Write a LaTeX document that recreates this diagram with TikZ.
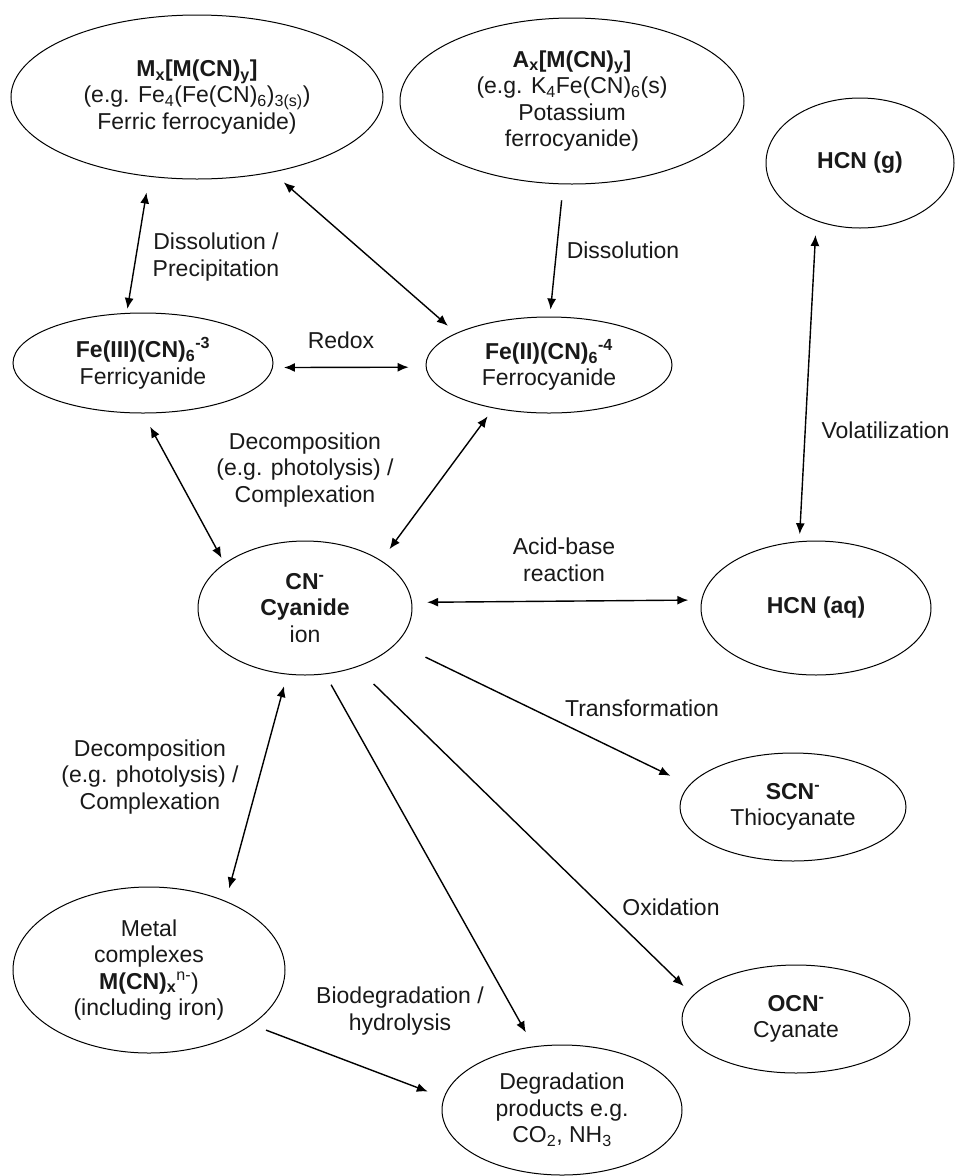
\documentclass[tikz,border=0pt]{standalone}
\usepackage{fontspec}
\setmainfont{Liberation Sans}
\usetikzlibrary{arrows.meta,shapes.geometric}
\begin{document}
\begin{tikzpicture}[x=1pt,y=-1pt,
  every node/.style={font=\fontsize{23}{26.5}\selectfont, align=center, text=black!90},
  ell/.style={draw, ellipse, line width=1pt, inner sep=0pt},
  conn/.style={line width=1.4pt, -{Latex[length=11pt,width=9pt]}},
  biconn/.style={line width=1.4pt, {Latex[length=11pt,width=9pt]}-{Latex[length=11pt,width=9pt]}},
]
\fill[white] (0,0) rectangle (954,1176);
\useasboundingbox (0,0) rectangle (954,1176);

% ellipses
\node[ell, minimum width=372pt, minimum height=164pt] (mx) at (197,97)
  {\textbf{M\textsubscript{x}[M(CN)\textsubscript{y}]}\\(e.g. Fe\textsubscript{4}(Fe(CN)\textsubscript{6})\textsubscript{3(s)})\\Ferric ferrocyanide)};
\node[ell, minimum width=344pt, minimum height=166pt] (ax) at (572,101)
  {\textbf{A\textsubscript{x}[M(CN)\textsubscript{y}]}\\(e.g. K\textsubscript{4}Fe(CN)\textsubscript{6}(s)\\Potassium\\ferrocyanide)};
\node[ell, minimum width=188pt, minimum height=130pt] (hcng) at (860,163) {\textbf{HCN (g)}};
\node[ell, minimum width=260pt, minimum height=100pt] (fe3) at (143,363)
  {\textbf{Fe(III)(CN)\textsubscript{6}\textsuperscript{-3}}\\Ferricyanide};
\node[ell, minimum width=246pt, minimum height=96pt] (fe2) at (549,365)
  {\textbf{Fe(II)(CN)\textsubscript{6}\textsuperscript{-4}}\\Ferrocyanide};
\node[ell, minimum width=214pt, minimum height=134pt] (cn) at (305,608)
  {\textbf{CN\textsuperscript{-}}\\\textbf{Cyanide}\\ion};
\node[ell, minimum width=230pt, minimum height=134pt] (hcnaq) at (816,608) {\textbf{HCN (aq)}};
\node[ell, minimum width=226pt, minimum height=108pt] (scn) at (793,807)
  {\textbf{SCN\textsuperscript{-}}\\Thiocyanate};
\node[ell, minimum width=228pt, minimum height=108pt] (ocn) at (796,1019)
  {\textbf{OCN\textsuperscript{-}}\\Cyanate};
\node[ell, minimum width=272pt, minimum height=166pt] (metal) at (149,970)
  {Metal\\complexes\\\textbf{M(CN)\textsubscript{x}}\textsuperscript{n-})\\(including iron)};
\node[ell, minimum width=240pt, minimum height=130pt] (deg) at (562,1110)
  {Degradation\\products e.g.\\CO\textsubscript{2}, NH\textsubscript{3}};

% labels
\node (l1) at (216,257) {Dissolution /\\Precipitation};
\node (l2) at (623,250) {Dissolution};
\node (l3) at (341,340) {Redox};
\node (l4) at (305,470) {Decomposition\\(e.g. photolysis) /\\Complexation};
\node (l5) at (564,560) {Acid-base\\reaction};
\node[anchor=east] (l6) at (953,430) {Volatilization};
\node (l7) at (642,708) {Transformation};
\node (l8) at (150,777) {Decomposition\\(e.g. photolysis) /\\Complexation};
\node (l9) at (671,907) {Oxidation};
\node (l10) at (400,1011) {Biodegradation /\\hydrolysis};

% connectors
\draw[biconn, shorten <=16pt, shorten >=4pt] (mx.-121.5) -- (fe3.108.8);
\draw[biconn, shorten <=15pt, shorten >=11pt] (mx.-45.3) -- (fe2.161.4);
\draw[conn, shorten <=16pt, shorten >=7pt] (ax.-96.9) -- (fe2.89);
\draw[biconn, shorten <=11pt, shorten >=17pt] (fe3.-2) -- (fe2.181.2);
\draw[biconn, shorten <=15pt, shorten >=6pt] (fe3.-90) -- (cn.151.3);
\draw[biconn, shorten <=10pt, shorten >=14pt] (fe2.-142.1) -- (cn.32);
\draw[biconn, shorten <=15pt, shorten >=13pt] (cn.3.3) -- (hcnaq.176.9);
\draw[biconn, shorten <=14pt, shorten >=7pt] (hcng.-127.5) -- (hcnaq.104.6);
\draw[biconn, shorten <=12pt, shorten >=13pt] (cn.-105.8) -- (metal.42.2);
\draw[conn, shorten <=32pt, shorten >=21pt] (cn.-21.2) -- (scn.168.7);
\draw[conn, shorten <=24pt, shorten >=13pt] (cn.-49.4) -- (ocn.167.4);
\draw[conn, shorten <=12pt, shorten >=16pt] (cn.-73.4) -- (deg.114.2);
\draw[conn, shorten <=15pt, shorten >=17pt] (metal.-28.9) -- (deg.174.5);
\end{tikzpicture}
\end{document}
